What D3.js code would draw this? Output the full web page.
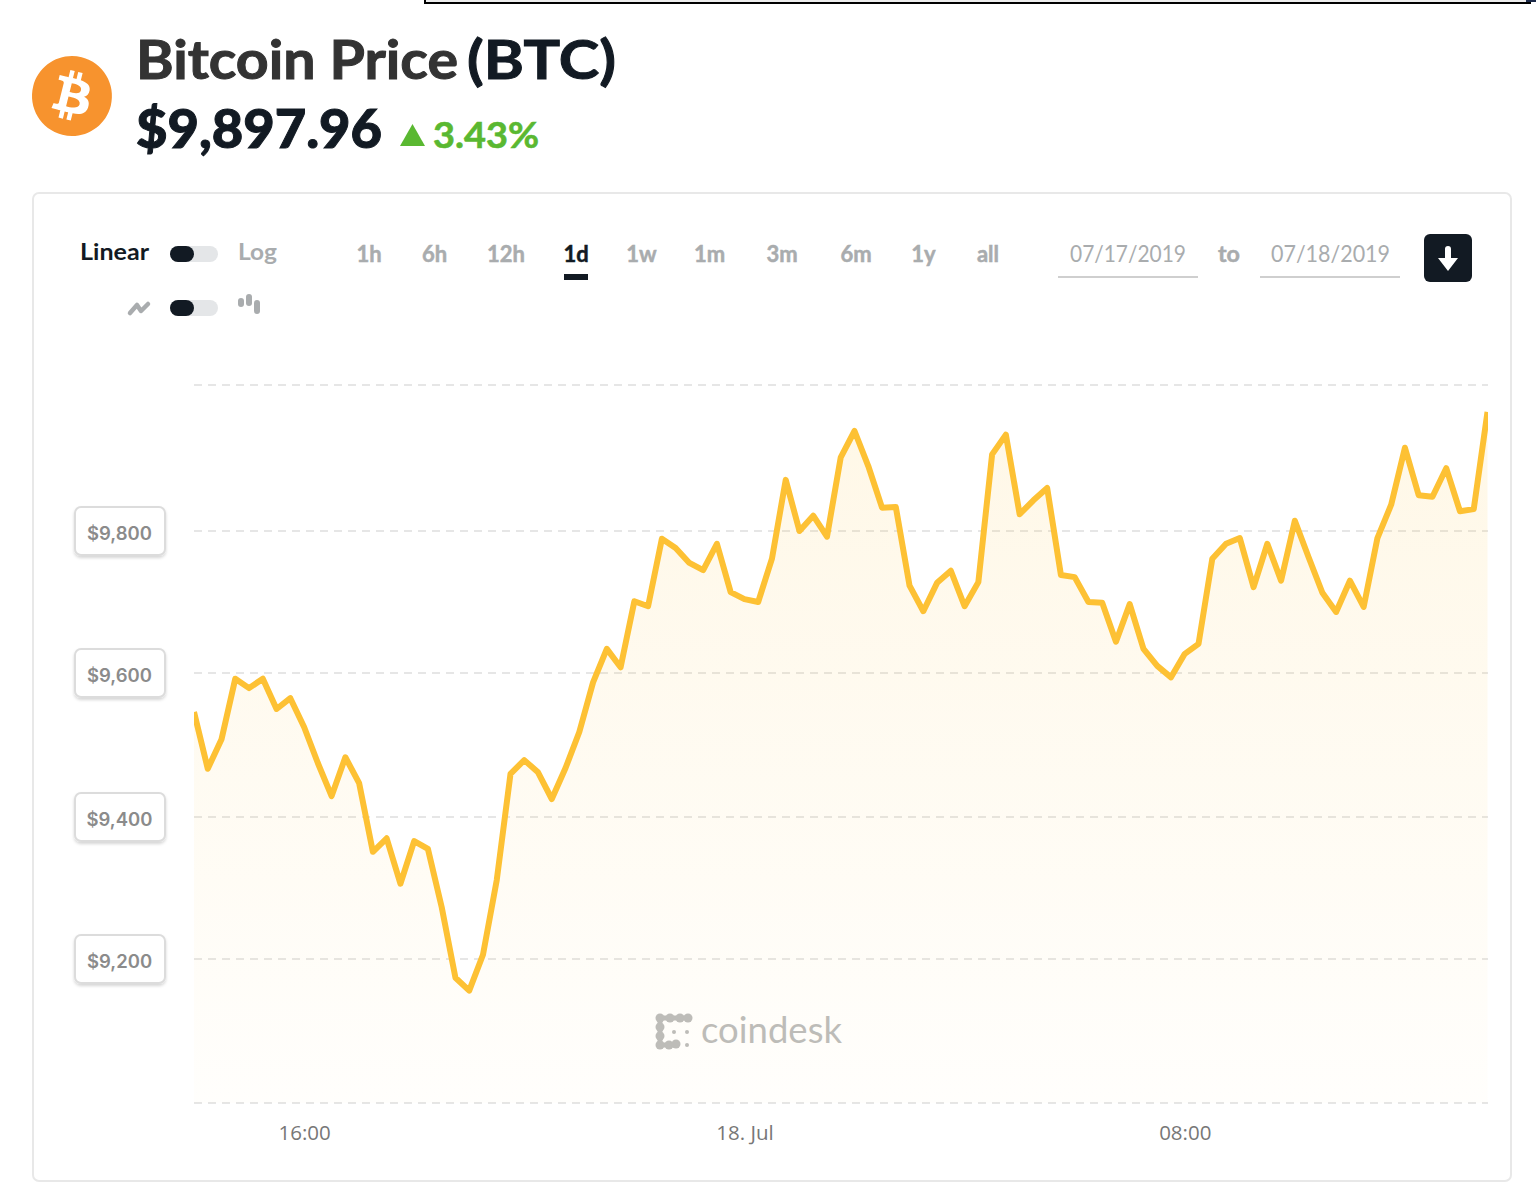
<!DOCTYPE html>
<html>
<head>
<meta charset="utf-8">
<script src="https://cdn.jsdelivr.net/npm/d3@7"></script>
<style>
  html, body { margin: 0; padding: 0; background: #fff; }
  svg { display: block; }
</style>
</head>
<body>
<div id="chart"></div>
<script>
// prices every 15 minutes
var prices = [
  9546, 9467, 9508, 9592, 9579, 9592, 9550, 9565, 9525, 9475,
  9429, 9483, 9447, 9351, 9370, 9306, 9366, 9355, 9273, 9174,
  9156, 9206, 9311, 9460, 9479, 9462, 9425, 9468, 9518, 9587,
  9634, 9608, 9701, 9694, 9789, 9776, 9755, 9745, 9782, 9714,
  9704, 9700, 9761, 9870, 9800, 9821, 9792, 9901, 9937, 9889,
  9832, 9833, 9723, 9687, 9727, 9744, 9694, 9728, 9905, 9932,
  9823, 9842, 9859, 9738, 9735, 9700, 9699, 9644, 9697, 9634,
  9610, 9594, 9627, 9641, 9761, 9782, 9790, 9721, 9782, 9730,
  9814, 9763, 9713, 9686, 9730, 9693, 9790, 9836, 9914, 9849,
  9847, 9886, 9827, 9830, 9963
];
var startTime = new Date(2019, 6, 17, 14, 0);
var endTime = new Date(2019, 6, 18, 13, 30);
var gridValues = [9000, 9200, 9400, 9600, 9800, 10000];
var labelValues = [9200, 9400, 9600, 9800];
var timeTicks = [new Date(2019, 6, 17, 16, 0), new Date(2019, 6, 18, 0, 0), new Date(2019, 6, 18, 8, 0)];
var timeLabels = ["16:00", "18. Jul", "08:00"];
var ranges = ["1h", "6h", "12h", "1d", "1w", "1m", "3m", "6m", "1y", "all"];
var rangeCenters = [369, 434.5, 506, 576, 641.5, 709.5, 782, 856, 923.5, 988];

var dark = "#121a23", grey = "#a9acae", head = "Lato, 'Open Sans', sans-serif";

var svg = d3.select("#chart").append("svg").attr("width", 1536).attr("height", 1202);
var defs = svg.append("defs");

var grad = defs.append("linearGradient").attr("id", "fade")
  .attr("gradientUnits", "userSpaceOnUse").attr("x1", 0).attr("x2", 0).attr("y1", 412).attr("y2", 1103);
grad.append("stop").attr("offset", 0).attr("stop-color", "#fdc134").attr("stop-opacity", 0.12);
grad.append("stop").attr("offset", 1).attr("stop-color", "#fdc134").attr("stop-opacity", 0.015);

defs.append("clipPath").attr("id", "plot").append("rect")
  .attr("x", 194).attr("y", 385).attr("width", 1294).attr("height", 718);

var shadow = defs.append("filter").attr("id", "shadow")
  .attr("x", "-20%").attr("y", "-20%").attr("width", "140%").attr("height", "150%");
shadow.append("feDropShadow").attr("dx", 0).attr("dy", 2).attr("stdDeviation", 1.5)
  .attr("flood-color", "#000").attr("flood-opacity", 0.16);

// scales
var x = d3.scaleTime().domain([startTime, endTime]).range([194, 1487.5]);
var y = d3.scaleLinear().domain(gridValues).range([1103, 959, 817, 673, 531, 385]);

// top edge of the thing above the chart
svg.append("rect").attr("x", 425).attr("y", -4).attr("width", 1105).attr("height", 7)
  .attr("fill", "#ececec").attr("stroke", "#000").attr("stroke-width", 2);
svg.append("rect").attr("x", 1526).attr("y", 0).attr("width", 10).attr("height", 2).attr("fill", "#1c2a4a");

// header
var coin = svg.append("g").attr("transform", "translate(32,56) scale(1.25)");
coin.append("path").attr("fill", "#f7932e")
  .attr("d", "M63.04 39.741c-4.274 17.143-21.638 27.575-38.783 23.301C7.12 58.768-3.313 41.404.962 24.262 5.234 7.117 22.597-3.317 39.737.957c17.144 4.274 27.576 21.64 23.302 38.784z");
coin.append("path").attr("fill", "#fff")
  .attr("d", "M46.11 27.441c.636-4.258-2.606-6.547-7.039-8.074l1.438-5.768-3.512-.875-1.4 5.616c-.922-.23-1.87-.447-2.812-.662l1.41-5.653-3.509-.875-1.439 5.766c-.764-.174-1.514-.346-2.242-.527l.004-.018-4.842-1.209-.934 3.75s2.605.597 2.55.634c1.422.355 1.68 1.296 1.636 2.042l-1.638 6.571c.098.025.225.061.365.117l-.37-.092-2.297 9.205c-.174.432-.615 1.08-1.609.834.035.051-2.552-.637-2.552-.637l-1.743 4.02 4.57 1.139c.85.213 1.683.436 2.502.646l-1.453 5.835 3.507.875 1.44-5.772c.957.26 1.887.5 2.797.726L27.504 50.8l3.511.875 1.453-5.823c5.987 1.133 10.49.676 12.383-4.738 1.527-4.36-.075-6.875-3.225-8.516 2.294-.531 4.022-2.04 4.483-5.157zM38.087 38.69c-1.085 4.36-8.426 2.004-10.807 1.412l1.928-7.729c2.38.594 10.011 1.77 8.88 6.317zm1.086-11.312c-.99 3.966-7.1 1.951-9.083 1.457l1.748-7.01c1.983.494 8.367 1.416 7.335 5.553z");

function label(txt, px, py, size, weight, color, anchor, len, heavy) {
  var t = svg.append("text").attr("x", px).attr("y", py).text(txt)
    .attr("font-family", head).attr("font-size", size).attr("font-weight", weight)
    .attr("fill", color).attr("text-anchor", anchor || "start");
  if (len) t.attr("textLength", len).attr("lengthAdjust", "spacingAndGlyphs");
  if (heavy) t.attr("stroke", color).attr("stroke-width", heavy);
  return t;
}

label("Bitcoin Price", 136, 79, 54, 700, "#333333", "start", 322, 1);
label("(BTC)", 467, 79, 54, 700, dark, "start", 149, 1);
label("$9,897.96", 136, 148, 54, 900, dark, "start", 246, 1);
svg.append("path").attr("d", "M400 146 L412.5 124 L425 146 Z").attr("fill", "#5ab831");
label("3.43%", 433, 148, 37, 700, "#5ab831", "start", 106, 0.6);

// panel
svg.append("rect").attr("x", 33).attr("y", 193).attr("width", 1478).attr("height", 988).attr("rx", 6)
  .attr("fill", "#fff").attr("stroke", "#e8e8e8").attr("stroke-width", 2);

// toggles
label("Linear", 80, 260, 23, 700, dark, "start", 69);
label("Log", 238, 260, 23, 700, grey, "start", 39);
[246, 300].forEach(function(top) {
  svg.append("rect").attr("x", 170).attr("y", top).attr("width", 48).attr("height", 16).attr("rx", 8).attr("fill", "#e4e6e8");
  svg.append("rect").attr("x", 170).attr("y", top).attr("width", 24).attr("height", 16).attr("rx", 8).attr("fill", dark);
});
svg.append("path").attr("d", "M130 313 L137 305 L141 311 L148 304")
  .attr("fill", "none").attr("stroke", grey).attr("stroke-width", 4.5).attr("stroke-linejoin", "round").attr("stroke-linecap", "round");
[[238, 298, 9], [246, 294, 12], [254, 300, 14]].forEach(function(b) {
  svg.append("rect").attr("x", b[0]).attr("y", b[1]).attr("width", 6).attr("height", b[2]).attr("rx", 3).attr("fill", grey);
});

// range buttons
ranges.forEach(function(r, i) {
  label(r, rangeCenters[i], 262, 22, 700, r == "1d" ? dark : grey, "middle", null, 0.5);
});
svg.append("rect").attr("x", 564).attr("y", 274).attr("width", 24).attr("height", 6).attr("fill", dark);

// date inputs
label("07/17/2019", 1070, 262, 23, 400, grey, "start", 116);
label("to", 1218, 262, 23, 700, grey, "start", 22, 0.5);
label("07/18/2019", 1271, 262, 23, 400, grey, "start", 119);
[1058, 1260].forEach(function(left) {
  svg.append("rect").attr("x", left).attr("y", 276).attr("width", 140).attr("height", 2).attr("fill", "#cfcfcf");
});
svg.append("rect").attr("x", 1424).attr("y", 234).attr("width", 48).attr("height", 48).attr("rx", 6).attr("fill", dark);
svg.append("path").attr("d", "M1445 249 a3 3 0 0 1 6 0 L1451 258 L1458 258 L1448 271 L1438 258 L1445 258 Z").attr("fill", "#fff");

// grid
svg.append("g").selectAll("line").data(gridValues).enter().append("line")
  .attr("x1", 194).attr("x2", 1488)
  .attr("y1", function(d) { return y(d); }).attr("y2", function(d) { return y(d); })
  .attr("stroke", "#e6e6e6").attr("stroke-width", 2).attr("stroke-dasharray", "8,6");

// series
var series = prices.map(function(p, i) { return { t: d3.timeMinute.offset(startTime, i * 15), p: p }; });

var plot = svg.append("g").attr("clip-path", "url(#plot)");
plot.append("path").datum(series).attr("fill", "url(#fade)")
  .attr("d", d3.area().x(function(d) { return x(d.t); }).y0(1103).y1(function(d) { return y(d.p); }));
plot.append("path").datum(series).attr("fill", "none")
  .attr("stroke", "#fdc134").attr("stroke-width", 6).attr("stroke-linejoin", "round")
  .attr("d", d3.line().x(function(d) { return x(d.t); }).y(function(d) { return y(d.p); }));

// y labels in little boxes
var boxes = svg.append("g").selectAll("g").data(labelValues).enter().append("g")
  .attr("transform", function(d) { return "translate(75," + y(d) + ")"; });
boxes.append("rect").attr("x", 0).attr("y", -24).attr("width", 90).attr("height", 48).attr("rx", 6)
  .attr("fill", "#fff").attr("stroke", "#dcdcdc").attr("stroke-width", 2).attr("filter", "url(#shadow)");
boxes.append("text").attr("x", 44.5).attr("y", 9).attr("text-anchor", "middle")
  .attr("font-family", "Inter, 'Open Sans', sans-serif").attr("font-size", 18.5).attr("font-weight", 600).attr("fill", "#8b8b8b")
  .text(function(d) { return "$" + d3.format(",")(d); });

// x axis
var xAxis = d3.axisBottom(x).tickValues(timeTicks).tickSize(0).tickPadding(0)
  .tickFormat(function(d, i) { return timeLabels[i]; });
var xg = svg.append("g").attr("transform", "translate(0,1125)").call(xAxis);
xg.select(".domain").remove();
xg.selectAll("text").attr("font-family", "'Open Sans', sans-serif").attr("font-size", 20.5).attr("fill", "#777777");

// watermark
var wm = svg.append("g").attr("fill", "#bdbcb8");
wm.append("path").attr("d", "M660 1018 L688 1018 M660 1018 L660 1045 L676 1045")
  .attr("fill", "none").attr("stroke", "#bdbcb8").attr("stroke-width", 5);
[[660, 1018], [670, 1018], [680, 1018], [688, 1018], [660, 1027], [660, 1036], [660, 1045], [669, 1045], [676, 1044]].forEach(function(c) {
  wm.append("circle").attr("cx", c[0]).attr("cy", c[1]).attr("r", 4.5);
});
[[674, 1032], [687, 1032], [687, 1045]].forEach(function(c) {
  wm.append("circle").attr("cx", c[0]).attr("cy", c[1]).attr("r", 2);
});
label("coindesk", 701, 1043, 37, 400, "#bdbcb8", "start", 141);
</script>
</body>
</html>
